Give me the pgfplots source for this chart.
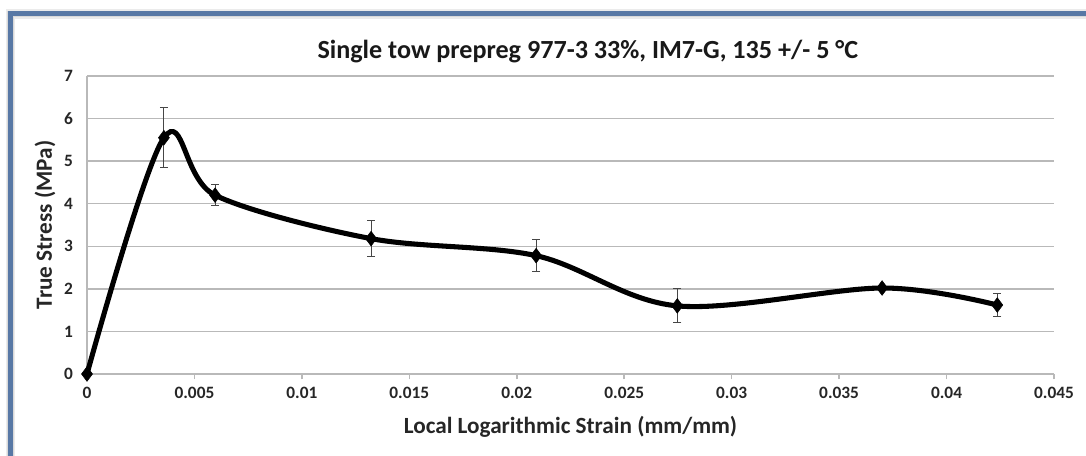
\documentclass[border=0pt]{standalone}
\usepackage{fontspec}
\setmainfont{Carlito}
\usepackage{pgfplots}
\pgfplotsset{compat=1.18}
\usepackage{pgfplotstable}
\definecolor{frameblue}{RGB}{88,120,165}
\definecolor{gridgray}{RGB}{185,185,185}
\definecolor{errgray}{RGB}{70,70,70}
\pgfplotstableread{
x y e
0 0 0
0.00358 5.55 0.71
0.00596 4.20 0.25
0.01322 3.18 0.43
0.02090 2.78 0.38
0.02747 1.60 0.40
0.03700 2.02 0.03
0.04236 1.62 0.28
}\datatable
\begin{document}
\begin{tikzpicture}
\useasboundingbox (-65.25pt,-61.5pt) rectangle (749.25pt,280.5pt);
% shadow + frame
\draw[line width=7pt, black!8] (-57.4pt,-80pt) -- (-57.4pt,270pt) -- (780pt,270pt);
\draw[line width=5pt, black!15] (-57.4pt,-80pt) -- (-57.4pt,270pt) -- (780pt,270pt);
\draw[line width=3.75pt, frameblue] (-57.4pt,-80pt) -- (-57.4pt,270pt) -- (780pt,270pt);
\begin{axis}[
  at={(0,0)}, anchor=south west,
  scale only axis,
  width=725.25pt, height=223.5pt,
  xmin=0, xmax=0.045, ymin=0, ymax=7,
  clip=false,
  axis lines*=left,
  axis line style={gridgray, line width=1.1pt},
  every outer x axis line/.append style={-},
  every outer y axis line/.append style={-},
  xtick={0,0.005,0.01,0.015,0.02,0.025,0.03,0.035,0.04,0.045},
  xticklabels={0,0.005,0.01,0.015,0.02,0.025,0.03,0.035,0.04,0.045},
  scaled x ticks=false,
  ytick={0,1,2,3,4,5,6,7},
  tick align=outside,
  major tick length=4pt,
  xtick style={gridgray, line width=1.1pt},
  ytick style={draw=none},
  ymajorgrids,
  grid style={gridgray, line width=1.1pt},
  tick label style={font=\fontsize{13}{15}\selectfont\bfseries, text=black!85},
  /pgf/number format/assume math mode=true,
  xticklabel style={yshift=-2pt},
  yticklabel style={xshift=-3pt},
  xlabel={Local Logarithmic Strain (mm/mm)},
  ylabel={True Stress (MPa)},
  label style={font=\fontsize{17.4}{20}\selectfont\bfseries, text=black!85},
  xlabel style={at={(axis description cs:0.5,0)}, anchor=center, yshift=-39.75pt},
  ylabel style={at={(axis description cs:0,0.5)}, anchor=center, yshift=31.5pt},
  title={Single tow prepreg 977-3 33\%, IM7-G, 135 +/- 5 \textdegree C},
  title style={font=\fontsize{19.6}{22}\selectfont\bfseries, text=black!90, at={(axis description cs:0.5,1)}, anchor=center, yshift=12pt, xshift=13pt},
]
\addplot[black, line width=3.8pt, smooth, tension=0.55, no marks] table[x=x, y=y] {\datatable};
\addplot[only marks, mark=diamond*, mark size=5.5pt, mark options={black, fill=black},
  error bars/.cd, y dir=both, y explicit,
  error bar style={errgray, line width=0.8pt},
  error mark options={rotate=90, errgray, mark size=3pt, line width=0.8pt}]
  table[x=x, y=y, y error=e] {\datatable};
\end{axis}
\end{tikzpicture}
\end{document}
